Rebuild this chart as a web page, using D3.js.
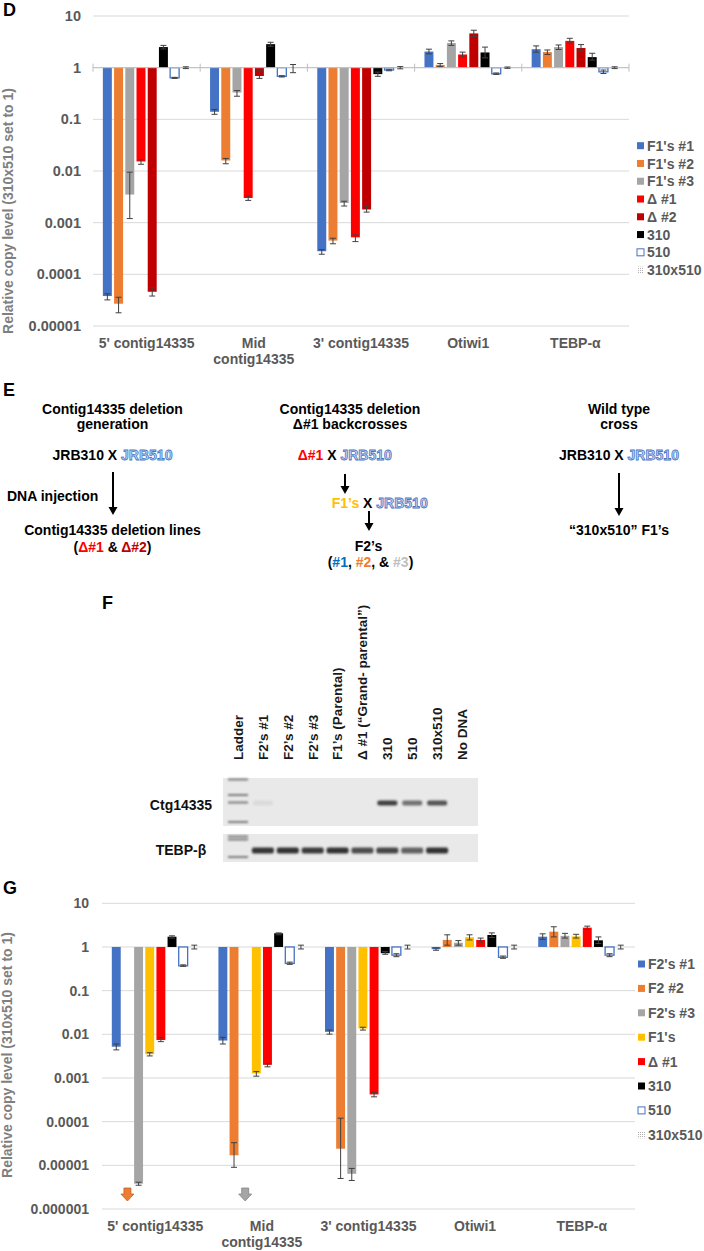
<!DOCTYPE html>
<html><head><meta charset="utf-8">
<script src="https://cdn.jsdelivr.net/npm/d3@7/dist/d3.min.js"></script>
<style>
body{margin:0;background:#fff}
svg{display:block}
text{font-family:"Liberation Sans",Arial,sans-serif;font-weight:bold}
</style>
</head><body>
<svg id="fig" width="704" height="1251"></svg>
<script>
// ---------------- DATA ----------------
const categories = ["5' contig14335", "Mid\ncontig14335", "3' contig14335", "Otiwi1", "TEBP-α"];

// Panel D
const yTicksD = [10, 1, 0.1, 0.01, 0.001, 0.0001, 0.00001];
const yTickLabelsD = ["10", "1", "0.1", "0.01", "0.001", "0.0001", "0.00001"];
const seriesD = ["F1's #1", "F1's #2", "F1's #3", "Δ #1", "Δ #2", "310", "510", "310x510"];
const dF1s1 = [3.8e-5, 0.14, 2.8e-4, 2.05, 2.28];
const dF1s1Err = [[3.2e-5, 4.2e-5], [0.125, 0.155], [2.45e-4, 3.0e-4], [1.85, 2.28], [2.0, 2.64]];
const dF1s2 = [2.7e-5, 0.016, 4.5e-4, 1.13, 2.0];
const dF1s2Err = [[1.8e-5, 3.6e-5], [0.0138, 0.0175], [3.9e-4, 5.0e-4], [1.05, 1.2], [1.8, 2.2]];
const dF1s3 = [0.0035, 0.33, 0.0024, 3.0, 2.5];
const dF1s3Err = [[0.0012, 0.0095], [0.28, 0.36], [0.0021, 0.0026], [2.7, 3.3], [2.25, 2.75]];
const dDel1 = [0.0153, 0.003, 5.2e-4, 1.8, 3.3];
const dDel1Err = [[0.0135, 0.0165], [0.0027, 0.0033], [4.3e-4, 5.8e-4], [1.6, 2.0], [3.0, 3.7]];
const dDel2 = [4.6e-5, 0.69, 0.0018, 4.6, 2.4];
const dDel2Err = [[3.8e-5, 5.5e-5], [0.62, 0.87], [0.0016, 0.0021], [4.0, 5.3], [2.1, 2.8]];
const d310 = [2.5, 2.85, 0.75, 1.97, 1.6];
const d310Err = [[2.3, 2.7], [2.6, 3.1], [0.68, 0.82], [1.55, 2.5], [1.4, 1.9]];
const d510 = [0.635, 0.68, 0.9, 0.76, 0.83];
const d510Err = [[0.62, 0.65], [0.66, 0.7], [0.87, 0.93], [0.74, 0.79], [0.77, 0.9]];
const d310x510 = [1, 1, 1, 1, 1];
const d310x510Err = [[0.96, 1.04], [0.8, 1.15], [0.95, 1.05], [0.97, 1.03], [0.96, 1.04]];

// Panel G
const yTicksG = [10, 1, 0.1, 0.01, 0.001, 0.0001, 0.00001, 0.000001];
const yTickLabelsG = ["10", "1", "0.1", "0.01", "0.001", "0.0001", "0.00001", "0.000001"];
const seriesG = ["F2's #1", "F2 #2", "F2's #3", "F1's", "Δ #1", "310", "510", "310x510"];
const gF2s1 = [0.0052, 0.0072, 0.0114, 0.89, 1.72];
const gF2s1Err = [[0.0044, 0.006], [0.006, 0.0085], [0.0101, 0.0125], [0.84, 0.95], [1.5, 2.0]];
const gF2s2 = [null, 1.7e-5, 2.4e-5, 1.45, 2.24];
const gF2s2Err = [null, [9e-6, 3.3e-5], [5e-6, 1.2e-4], [1.1, 1.9], [1.7, 2.9]];
const gF2s3 = [3.8e-6, null, 6.4e-6, 1.25, 1.8];
const gF2s3Err = [[3.5e-6, 4.1e-6], null, [4.5e-6, 8.5e-6], [1.1, 1.4], [1.6, 2.05]];
const gF1s = [0.0035, 0.00127, 0.0136, 1.67, 1.75];
const gF1sErr = [[0.0032, 0.0038], [0.0011, 0.0014], [0.0125, 0.0145], [1.45, 1.9], [1.6, 1.95]];
const gDel1 = [0.0074, 0.002, 0.00042, 1.45, 2.77];
const gDel1Err = [[0.0068, 0.0085], [0.0018, 0.0021], [0.00037, 0.00047], [1.3, 1.6], [2.5, 3.0]];
const g310 = [1.72, 2.06, 0.72, 1.88, 1.42];
const g310Err = [[1.6, 1.8], [1.9, 2.1], [0.68, 0.78], [1.65, 2.1], [1.2, 1.7]];
const g510 = [0.37, 0.42, 0.65, 0.58, 0.65];
const g510Err = [[0.36, 0.39], [0.4, 0.45], [0.6, 0.7], [0.55, 0.62], [0.6, 0.7]];
const g310x510 = [1, 1, 1, 1, 1];
const g310x510Err = [[0.9, 1.1], [0.9, 1.1], [0.9, 1.1], [0.9, 1.1], [0.9, 1.1]];

// Panel F (gel)
const lanes = ["Ladder", "F2’s #1", "F2’s #2", "F2’s #3", "F1’s (Parental)", "Δ #1 (“Grand- parental”)", "310", "510", "310x510", "No DNA"];
const ctgBand = [0, 0.07, 0, 0, 0, 0, 0.85, 0.6, 0.75, 0];
const tebpBand = [0, 0.9, 0.92, 0.88, 0.92, 0.78, 0.82, 0.68, 0.92, 0];
const gelRows = ["Ctg14335", "TEBP-β"];

// ---------------- STYLE ----------------
const colorsD = ["#4472C4", "#ED7D31", "#A5A5A5", "#FF0000", "#C00000", "#000000", "hollow", "pattern"];
const colorsG = ["#4472C4", "#ED7D31", "#A5A5A5", "#FFC000", "#FF0000", "#000000", "hollow", "pattern"];
const tickColor = "#595959";
const titleColor = "#7f7f7f";

const svg = d3.select("#fig");
svg.append("rect").attr("width", 704).attr("height", 1251).attr("fill", "#fff");
const defs = svg.append("defs");
const pat = defs.append("pattern").attr("id", "dots").attr("patternUnits", "userSpaceOnUse")
  .attr("width", 2).attr("height", 2);
pat.append("rect").attr("width", 2).attr("height", 2).attr("fill", "#fff");
pat.append("rect").attr("width", 1).attr("height", 1).attr("fill", "#b0b0b0");
defs.append("filter").attr("id", "blur").attr("x", "-30%").attr("y", "-100%").attr("width", "160%").attr("height", "300%")
  .append("feGaussianBlur").attr("stdDeviation", 0.9);

function barChart(opt) {
  const g = svg.append("g");
  const x0 = d3.scaleBand().domain(categories).range([opt.x0, opt.x1]);
  const x1 = d3.scaleBand().domain(d3.range(opt.series.length)).range([0, x0.bandwidth()])
    .paddingInner(0.2).paddingOuter(0.88);
  const y = d3.scaleLog().domain([opt.ymin, 10]).range([opt.yb, opt.yt]);

  // gridlines
  g.append("g").selectAll("line").data(opt.ticks).join("line")
    .attr("x1", opt.x0).attr("x2", opt.x1)
    .attr("y1", d => y(d)).attr("y2", d => y(d))
    .attr("stroke", "#d9d9d9").attr("stroke-width", 1);

  // y tick labels
  const ya = g.append("g").attr("transform", `translate(${opt.labelX},0)`)
    .call(d3.axisLeft(y).tickValues(opt.ticks).tickFormat((d, i) => opt.tickLabels[i]).tickSize(0).tickPadding(0));
  ya.select(".domain").remove();
  ya.selectAll("text").attr("fill", tickColor).style("font-size", opt.tickFont + "px")
    .style("font-family", '"Liberation Sans",Arial,sans-serif').style("font-weight", "bold");

  // y title
  g.append("text").attr("transform", `translate(${opt.titleX},${opt.titleY}) rotate(-90)`)
    .attr("text-anchor", "middle").attr("dy", "0.35em")
    .attr("fill", titleColor).style("font-size", "14px")
    .text("Relative copy level (310x510 set to 1)");

  // bars
  opt.series.forEach((s, si) => {
    const col = opt.colors[si];
    const sg = g.append("g");
    sg.selectAll("rect").data(s.values.map((v, ci) => ({v, c: categories[ci]})).filter(d => d.v !== null && d.v !== 1))
      .join("rect")
      .attr("x", d => x0(d.c) + x1(si))
      .attr("width", x1.bandwidth())
      .attr("y", d => Math.min(y(d.v), y(1)))
      .attr("height", d => Math.abs(y(d.v) - y(1)))
      .attr("fill", col === "hollow" ? "#fff" : (col === "pattern" ? "url(#dots)" : col))
      .attr("stroke", col === "hollow" ? "#4472C4" : "none")
      .attr("stroke-width", 1.3);
  });

  // baseline axis
  if (opt.axisLine) {
    g.append("line").attr("x1", opt.x0).attr("x2", opt.x1).attr("y1", y(1)).attr("y2", y(1))
      .attr("stroke", "#bfbfbf").attr("stroke-width", 1);
    g.append("g").selectAll("line").data(categories.map(c => x0(c)).concat([opt.x1])).join("line")
      .attr("x1", d => d).attr("x2", d => d).attr("y1", y(1) - 4).attr("y2", y(1) + 4)
      .attr("stroke", "#bfbfbf");
  }

  // error bars
  opt.series.forEach((s, si) => {
    const eg = g.append("g").attr("stroke", "#404040").attr("stroke-width", 1);
    s.err.forEach((e, ci) => {
      if (!e) return;
      const cx = x0(categories[ci]) + x1(si) + x1.bandwidth() / 2;
      eg.append("line").attr("x1", cx).attr("x2", cx).attr("y1", y(e[0])).attr("y2", y(e[1]));
      [e[0], e[1]].forEach(v => eg.append("line").attr("x1", cx - 3).attr("x2", cx + 3).attr("y1", y(v)).attr("y2", y(v)));
    });
  });

  // arrows for undetected values
  opt.series.forEach((s, si) => {
    s.values.forEach((v, ci) => {
      if (v !== null) return;
      const cx = x0(categories[ci]) + x1(si) + x1.bandwidth() / 2;
      const t = opt.arrowY;
      const col = opt.colors[si];
      g.append("path")
        .attr("d", `M${cx - 3.5},${t} L${cx + 3.5},${t} L${cx + 3.5},${t + 6} L${cx + 6.5},${t + 6} L${cx},${t + 13} L${cx - 6.5},${t + 6} L${cx - 3.5},${t + 6} Z`)
        .attr("fill", col).attr("stroke", d3.color(col).darker(0.6)).attr("stroke-width", 0.8);
    });
  });

  // category labels
  const xa = g.append("g").attr("transform", `translate(0,${opt.catY})`)
    .call(d3.axisBottom(x0).tickSize(0).tickPadding(0).tickFormat(""));
  xa.select(".domain").remove();
  xa.selectAll(".tick text").each(function(d) {
    const t = d3.select(this).attr("fill", tickColor).attr("dy", 0).attr("y", 0)
      .style("font-size", "14px").style("font-family", '"Liberation Sans",Arial,sans-serif').style("font-weight", "bold");
    d.split("\n").forEach((line, i) => t.append("tspan").attr("x", 0).attr("y", i * 16).text(line));
  });

  // legend
  const lg = g.append("g");
  opt.series.forEach((s, si) => {
    const ly = opt.legY + si * opt.legStep;
    const col = opt.colors[si];
    lg.append("rect").attr("x", opt.legX).attr("y", ly - 3.5).attr("width", 7).attr("height", 7)
      .attr("fill", col === "hollow" ? "#fff" : (col === "pattern" ? "url(#dots)" : col))
      .attr("stroke", col === "hollow" ? "#4472C4" : "none").attr("stroke-width", 1);
    lg.append("text").attr("x", opt.legX + 10).attr("y", ly).attr("dy", "0.36em")
      .attr("fill", tickColor).style("font-size", "14px").text(s.name);
  });
}

const dSeries = [
  {name: seriesD[0], values: dF1s1, err: dF1s1Err},
  {name: seriesD[1], values: dF1s2, err: dF1s2Err},
  {name: seriesD[2], values: dF1s3, err: dF1s3Err},
  {name: seriesD[3], values: dDel1, err: dDel1Err},
  {name: seriesD[4], values: dDel2, err: dDel2Err},
  {name: seriesD[5], values: d310, err: d310Err},
  {name: seriesD[6], values: d510, err: d510Err},
  {name: seriesD[7], values: d310x510, err: d310x510Err}
];
const gSeries = [
  {name: seriesG[0], values: gF2s1, err: gF2s1Err},
  {name: seriesG[1], values: gF2s2, err: gF2s2Err},
  {name: seriesG[2], values: gF2s3, err: gF2s3Err},
  {name: seriesG[3], values: gF1s, err: gF1sErr},
  {name: seriesG[4], values: gDel1, err: gDel1Err},
  {name: seriesG[5], values: g310, err: g310Err},
  {name: seriesG[6], values: g510, err: g510Err},
  {name: seriesG[7], values: g310x510, err: g310x510Err}
];

barChart({series: dSeries, colors: colorsD, ticks: yTicksD, tickLabels: yTickLabelsD, ymin: 1e-5,
  x0: 93, x1: 629, yt: 16, yb: 326, labelX: 81, tickFont: 14.5, titleX: 8, titleY: 211,
  catY: 348, axisLine: true, legX: 637, legY: 145.7, legStep: 17.77, arrowY: 0});

barChart({series: gSeries, colors: colorsG, ticks: yTicksG, tickLabels: yTickLabelsG, ymin: 1e-6,
  x0: 102, x1: 635, yt: 903.3, yb: 1209, labelX: 89, tickFont: 14, titleX: 7.5, titleY: 1055,
  catY: 1231, axisLine: false, legX: 638, legY: 964, legStep: 24.4, arrowY: 1188});

// Panel letters
[["D", 3, 16], ["E", 3, 396], ["F", 102, 609], ["G", 3, 894]].forEach(([t, x, y]) =>
  svg.append("text").attr("x", x).attr("y", y).style("font-size", "18px").attr("fill", "#000").text(t));

// ---------------- PANEL E ----------------
const E = svg.append("g").style("font-size", "14px").attr("fill", "#000");
function line(x, y, parts, anchor) {
  const t = E.append("text").attr("x", x).attr("y", y).attr("text-anchor", anchor || "middle");
  parts.forEach(p => {
    const ts = t.append("tspan").text(p[0]);
    if (p[1] === "jrb") ts.attr("fill", "#c9d8f2").attr("stroke", "#4a76c6").attr("stroke-width", 0.8);
    else if (p[1]) ts.attr("fill", p[1]);
  });
}
function arrow(x, y1, y2) {
  E.append("line").attr("x1", x).attr("x2", x).attr("y1", y1).attr("y2", y2 - 7).attr("stroke", "#000").attr("stroke-width", 2);
  E.append("path").attr("d", `M${x - 4.5},${y2 - 8} L${x + 4.5},${y2 - 8} L${x},${y2} Z`).attr("fill", "#000");
}
// column 1
line(112.5, 414, [["Contig14335 deletion"]]);
line(112.5, 429, [["generation"]]);
line(112.5, 460, [["JRB310 X "], ["JRB510", "jrb"]]);
arrow(113, 472, 515);
line(7, 500.5, [["DNA injection"]], "start");
line(112.5, 535, [["Contig14335 deletion lines"]]);
line(112.5, 551.5, [["("], ["Δ#1", "#FF0000"], [" & "], ["Δ#2", "#C00000"], [")"]]);
// column 2
line(350, 414, [["Contig14335 deletion"]]);
line(350, 429, [["Δ#1 backcrosses"]]);
line(344.7, 460, [["Δ#1", "#FF0000"], [" X "], ["JRB510", "jrb"]]);
arrow(345, 474, 494);
line(331.7, 507.5, [["F1’s", "#FFC000"], [" X "], ["JRB510", "jrb"]], "start");
arrow(369, 511, 531);
line(368.5, 550.5, [["F2’s"]]);
line(370.5, 566.5, [["("], ["#1", "#0070C0"], [", "], ["#2", "#ED7D31"], [", & "], ["#3", "#BFBFBF"], [")"]]);
// column 3
line(619, 414, [["Wild type"]]);
line(619, 429, [["cross"]]);
line(619, 460, [["JRB310 X "], ["JRB510", "jrb"]]);
arrow(619, 473, 516);
line(619, 535, [["“310x510” F1’s"]]);

// ---------------- PANEL F ----------------
const F = svg.append("g");
const lx = d3.scalePoint().domain(lanes).range([238, 462]);
F.selectAll("text.lane").data(lanes).join("text").attr("class", "lane")
  .attr("transform", d => `translate(${lx(d)},760) rotate(-90)`)
  .attr("dy", "0.36em").attr("fill", "#1a1a1a").style("font-size", "13.5px").text(d => d);
const gelTop = {y: 778, h: 48}, gelBot = {y: 834, h: 28};
[gelTop, gelBot].forEach(r => F.append("rect").attr("x", 223).attr("y", r.y).attr("width", 255).attr("height", r.h).attr("fill", "#e9e9e9"));
const yS = d3.scalePoint().domain(gelRows).range([805, 850]);
F.selectAll("text.row").data(gelRows).join("text").attr("class", "row")
  .attr("x", 181).attr("y", d => yS(d)).attr("dy", "0.36em").attr("text-anchor", "middle")
  .attr("fill", "#111").style("font-size", "14px").text(d => d);
// ladder bands (markers)
const ladderYs = [779.5, 795, 802.5, 822, 836.5, 839.5, 857];
F.selectAll("rect.ladder").data(ladderYs).join("rect").attr("class", "ladder")
  .attr("x", lx("Ladder") - 10).attr("width", 20).attr("y", d => d - 1).attr("height", 2)
  .attr("fill", "#7a7a7a").attr("filter", "url(#blur)");
// product bands
F.selectAll("rect.ctg").data(lanes.map((l, i) => ({l, v: ctgBand[i]})).filter(d => d.v > 0)).join("rect").attr("class", "ctg")
  .attr("x", d => lx(d.l) - 10).attr("width", 20).attr("y", 800.5).attr("height", 5).attr("rx", 2)
  .attr("fill", "#222").attr("opacity", d => d.v).attr("filter", "url(#blur)");
F.selectAll("rect.tebp").data(lanes.map((l, i) => ({l, v: tebpBand[i]})).filter(d => d.v > 0)).join("rect").attr("class", "tebp")
  .attr("x", d => lx(d.l) - 11).attr("width", 22).attr("y", 847.5).attr("height", 6).attr("rx", 2)
  .attr("fill", "#222").attr("opacity", d => d.v).attr("filter", "url(#blur)");
</script>
</body></html>
